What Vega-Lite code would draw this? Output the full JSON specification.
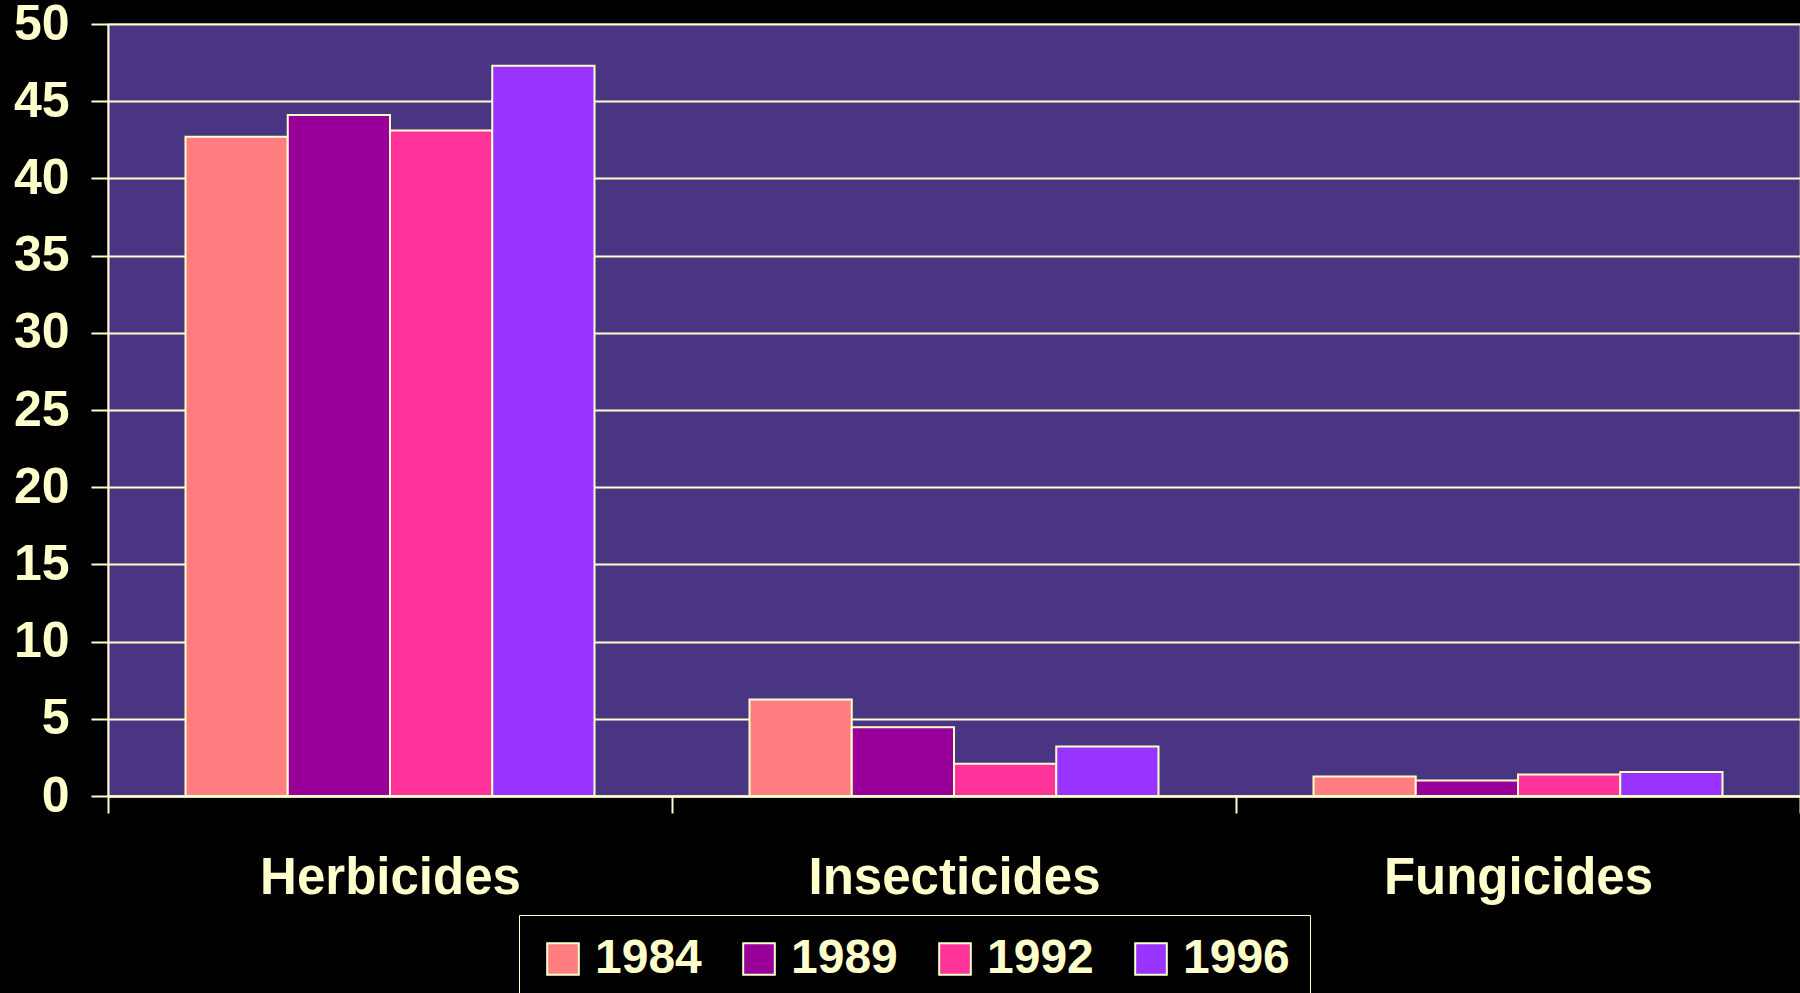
{
  "$schema": "https://vega.github.io/schema/vega-lite/v6.json",
  "autosize": "none",
  "width": 1692,
  "height": 772,
  "padding": {"left": 108, "top": 24, "right": 0, "bottom": 197},
  "background": "#000000",
  "config": {
    "view": {"fill": "#4A3583", "stroke": "#8A8A8A", "strokeWidth": 1.5},
    "font": "Liberation Sans"
  },
  "data": {
    "values": [
      {"category": "Herbicides", "year": "1984", "value": 42.7},
      {"category": "Herbicides", "year": "1989", "value": 44.1},
      {"category": "Herbicides", "year": "1992", "value": 43.1},
      {"category": "Herbicides", "year": "1996", "value": 47.3},
      {"category": "Insecticides", "year": "1984", "value": 6.25},
      {"category": "Insecticides", "year": "1989", "value": 4.45},
      {"category": "Insecticides", "year": "1992", "value": 2.09},
      {"category": "Insecticides", "year": "1996", "value": 3.2},
      {"category": "Fungicides", "year": "1984", "value": 1.27},
      {"category": "Fungicides", "year": "1989", "value": 1.0},
      {"category": "Fungicides", "year": "1992", "value": 1.4},
      {"category": "Fungicides", "year": "1996", "value": 1.55}
    ]
  },
  "mark": {"type": "bar", "stroke": "#FFFFCC", "strokeWidth": 2},
  "encoding": {
    "x": {
      "field": "category",
      "type": "nominal",
      "sort": ["Herbicides", "Insecticides", "Fungicides"],
      "scale": {"paddingInner": 0, "paddingOuter": 0},
      "axis": {
        "title": null,
        "labelAngle": 0,
        "labelFont": "Liberation Sans",
        "labelFontWeight": "bold",
        "labelFontSize": 51,
        "labelLimit": 0,
        "labelColor": "#FFFFCC",
        "labelPadding": 40,
        "domainColor": "#FFFFCC",
        "domainWidth": 2.5,
        "tickColor": "#FFFFCC",
        "tickWidth": 2,
        "tickSize": 17,
        "tickBand": "extent",
        "grid": false
      }
    },
    "xOffset": {
      "field": "year",
      "type": "nominal",
      "scale": {"paddingInner": 0, "paddingOuter": 0.758}
    },
    "y": {
      "field": "value",
      "type": "quantitative",
      "scale": {"domain": [0, 50], "nice": false},
      "axis": {
        "title": null,
        "values": [0, 5, 10, 15, 20, 25, 30, 35, 40, 45, 50],
        "labelFont": "Liberation Sans",
        "labelFontWeight": "bold",
        "labelFontSize": 50,
        "labelColor": "#FFFFCC",
        "labelPadding": 22,
        "domainColor": "#FFFFCC",
        "domainWidth": 2,
        "tickColor": "#FFFFCC",
        "tickWidth": 2,
        "tickSize": 17,
        "grid": true,
        "gridColor": "#FFFFCC",
        "gridWidth": 2,
        "gridOpacity": 1
      }
    },
    "color": {
      "field": "year",
      "type": "nominal",
      "scale": {
        "domain": ["1984", "1989", "1992", "1996"],
        "range": ["#FF7F80", "#990099", "#FF3399", "#9933FF"]
      },
      "legend": {
        "title": null,
        "orient": "none",
        "legendX": 411,
        "legendY": 891,
        "direction": "horizontal",
        "columns": 4,
        "symbolType": "square",
        "symbolSize": 1000,
        "symbolStrokeColor": "#FFFFCC",
        "symbolStrokeWidth": 2,
        "symbolOpacity": 1,
        "labelFont": "Liberation Sans",
        "labelFontWeight": "bold",
        "labelFontSize": 48,
        "labelColor": "#FFFFCC",
        "labelOffset": 8,
        "columnPadding": 33,
        "padding": 20,
        "strokeColor": "#FFFFCC"
      }
    }
  }
}
